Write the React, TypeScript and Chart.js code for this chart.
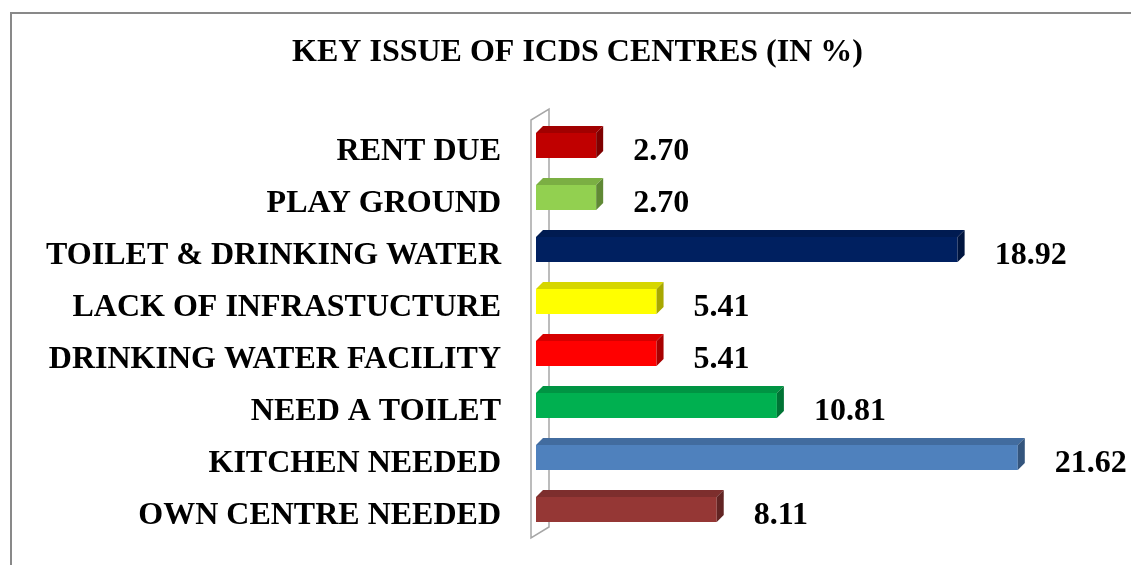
import React, { useEffect, useRef } from "react";
import { Chart, registerables } from "chart.js";

Chart.register(...registerables);

const titleText = "KEY ISSUE OF ICDS CENTRES (IN %)";
const categories = [
  "RENT DUE",
  "PLAY GROUND",
  "TOILET & DRINKING WATER",
  "LACK OF INFRASTUCTURE",
  "DRINKING WATER FACILITY",
  "NEED A TOILET",
  "KITCHEN NEEDED",
  "OWN CENTRE NEEDED",
];
const values = [2.7, 2.7, 18.92, 5.41, 5.41, 10.81, 21.62, 8.11];
const valueLabels = ["2.70", "2.70", "18.92", "5.41", "5.41", "10.81", "21.62", "8.11"];
const barColors = [
  "#C00000",
  "#92D050",
  "#002060",
  "#FFFF00",
  "#FF0000",
  "#00B050",
  "#4F81BD",
  "#953735",
];

const FONT = "'Liberation Serif', 'Times New Roman', serif";
const DEPTH = 7;

function shade(hex: string, f: number): string {
  const n = parseInt(hex.slice(1), 16);
  const r = Math.round(((n >> 16) & 255) * f);
  const g = Math.round(((n >> 8) & 255) * f);
  const b = Math.round((n & 255) * f);
  return `rgb(${r},${g},${b})`;
}

const threeDPlugin = {
  id: "threeD",
  beforeDraw(chart: any) {
    const { ctx, width, height } = chart;
    ctx.save();
    ctx.strokeStyle = "#898989";
    ctx.lineWidth = 2;
    ctx.beginPath();
    ctx.moveTo(11, height);
    ctx.lineTo(11, 13);
    ctx.lineTo(width, 13);
    ctx.stroke();
    ctx.restore();
  },
  beforeDatasetsDraw(chart: any) {
    const { ctx, chartArea } = chart;
    const l = chartArea.left;
    const t = chartArea.top;
    const b = chartArea.bottom;
    ctx.save();
    ctx.strokeStyle = "#a6a6a6";
    ctx.lineWidth = 1.5;
    ctx.beginPath();
    ctx.moveTo(l - 5, t + 0.5);
    ctx.lineTo(l - 5, b + 2.5);
    ctx.lineTo(l + 13, b - 8.5);
    ctx.lineTo(l + 13, t - 10.5);
    ctx.closePath();
    ctx.stroke();
    ctx.restore();
  },
  afterDatasetsDraw(chart: any) {
    const { ctx } = chart;
    const meta = chart.getDatasetMeta(0);
    ctx.save();
    meta.data.forEach((bar: any, i: number) => {
      const { x, y, base, height } = bar.getProps(["x", "y", "base", "height"], true);
      const top = y - height / 2;
      const bot = y + height / 2;
      const d = DEPTH;
      const c = barColors[i];
      ctx.fillStyle = shade(c, 0.84);
      ctx.beginPath();
      ctx.moveTo(base, top);
      ctx.lineTo(base + d, top - d);
      ctx.lineTo(x + d, top - d);
      ctx.lineTo(x, top);
      ctx.closePath();
      ctx.fill();
      ctx.fillStyle = shade(c, 0.66);
      ctx.beginPath();
      ctx.moveTo(x, top);
      ctx.lineTo(x + d, top - d);
      ctx.lineTo(x + d, bot - d);
      ctx.lineTo(x, bot);
      ctx.closePath();
      ctx.fill();

      ctx.fillStyle = "#000";
      ctx.font = `bold 32px ${FONT}`;
      ctx.textAlign = "left";
      ctx.textBaseline = "middle";
      ctx.fillText(valueLabels[i], x + d + 30, y + 6);
    });
    ctx.restore();
  },
};

export default function App() {
  const canvasRef = useRef<HTMLCanvasElement | null>(null);

  useEffect(() => {
    if (!canvasRef.current) return;
    const chart = new Chart(canvasRef.current, {
      type: "bar",
      data: {
        labels: categories,
        datasets: [
          {
            data: values,
            backgroundColor: barColors,
            borderWidth: 0,
            barPercentage: 0.48,
            categoryPercentage: 1,
          },
        ],
      },
      options: {
        indexAxis: "y",
        animation: false,
        responsive: true,
        maintainAspectRatio: false,
        layout: { padding: { left: 24, right: 0, top: 0, bottom: 29.5 } },
        plugins: {
          legend: { display: false },
          tooltip: { enabled: false },
          title: {
            display: true,
            text: titleText,
            color: "#000",
            font: { family: FONT, size: 32, weight: "bold" },
            padding: { top: 34, bottom: 47.1 },
          },
        },
        scales: {
          x: { display: false, min: 0, max: 26.7 },
          y: {
            grid: { display: false, drawTicks: false },
            border: { display: false },
            ticks: {
              color: "#000",
              font: { family: FONT, size: 32, weight: "bold" },
              padding: 35,
              labelOffset: 6,
            },
            afterFit: (scale: any) => {
              scale.width = 512;
              scale.paddingTop = 0;
              scale.paddingBottom = 0;
            },
          },
        },
      },
      plugins: [threeDPlugin],
    } as any);
    return () => chart.destroy();
  }, []);

  return (
    <div style={{ position: "absolute", left: 0, top: 0, width: 1131, height: 565, background: "#fff" }}>
      <canvas ref={canvasRef} />
    </div>
  );
}
